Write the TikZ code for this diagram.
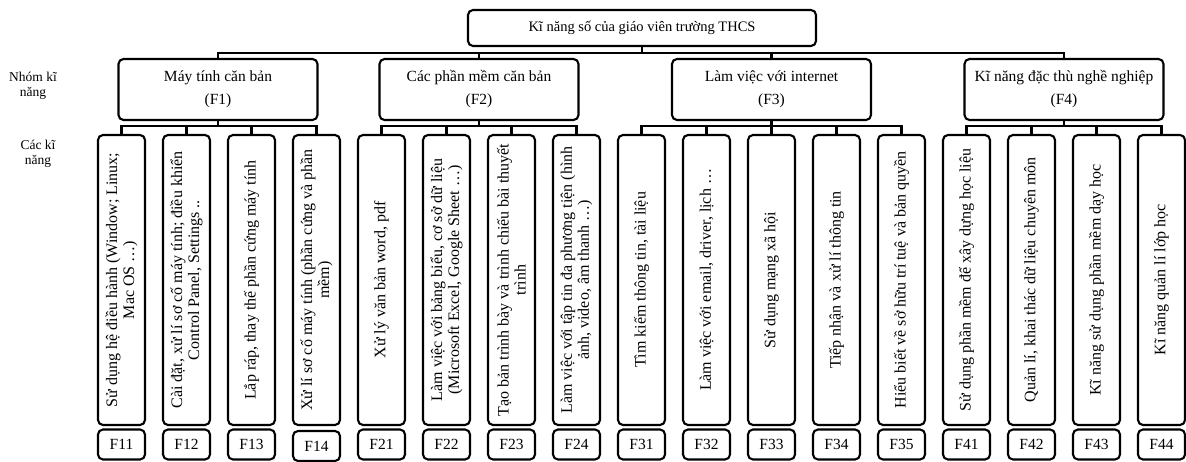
\documentclass[tikz,border=0pt]{standalone}
\usepackage{fontspec}
\setmainfont{Liberation Serif}
\usetikzlibrary{calc}
\tikzset{
  boxline/.style={draw=black, line width=2.1pt, rounded corners=5pt},
  titlebox/.style={boxline, minimum width=348pt, minimum height=36pt, inner sep=0pt, font=\fontsize{14.5}{17}\selectfont},
  groupbox/.style={boxline, minimum width=199pt, minimum height=61pt, inner sep=0pt, align=center, font=\fontsize{15.5}{23}\selectfont},
  colbox/.style={boxline, minimum width=47pt, minimum height=290pt, inner sep=0pt},
  coltext/.style={rotate=90, align=center, inner sep=0pt, font=\fontsize{16}{17}\selectfont},
  labbox/.style={boxline, minimum width=47pt, minimum height=30pt, inner sep=0pt, font=\fontsize{15.5}{17}\selectfont},
  sidetext/.style={align=center, inner sep=0pt, font=\fontsize{13.5}{15.5}\selectfont},
  conn/.style={draw=black, line width=2.1pt},
}
\newcommand{\skillcol}[5]{%
  \node[colbox] (c#1) at ({121.5+65*#2},280) {};
  \node[coltext] (x#1) at (c#1.center) {#3};
  \node[labbox] (l#1) at ({121.5+65*#2},{444.5+#5}) {#4};
}
\begin{document}
\begin{tikzpicture}[x=1pt,y=-1pt]
\useasboundingbox (0,0) rectangle (1186,462);

\node[titlebox] (t) at (642,28) {Kĩ năng số của giáo viên trường THCS};

\node[groupbox] (g1) at (218,89.5) {Máy tính căn bản\\(F1)};
\node[groupbox] (g2) at (479,89.5) {Các phần mềm căn bản\\(F2)};
\node[groupbox] (g3) at (771.5,89.5) {Làm việc với internet\\(F3)};
\node[groupbox] (g4) at (1064,89.5) {Kĩ năng đặc thù nghề nghiệp\\(F4)};

\node[sidetext] (s1) at (33,86) {Nhóm kĩ\\năng};
\node[sidetext] (s2) at (38,154) {Các kĩ\\năng};

\skillcol{11}{0}{Sử dụng hệ điều hành (Window; Linux;\\Mac OS …)}{F11}{0}
\skillcol{12}{1}{Cài đặt, xử lí sơ cố máy tính; điều khiển\\Control Panel, Settings ..}{F12}{0}
\skillcol{13}{2}{Lắp ráp, thay thế phần cứng máy tính}{F13}{0}
\skillcol{14}{3}{Xử lí sơ cố máy tính (phần cứng và phần\\mềm)}{F14}{1.5}
\skillcol{21}{4}{Xử lý văn bản word, pdf}{F21}{0}
\skillcol{22}{5}{Làm việc với bảng biểu, cơ sở dữ liệu\\(Microsoft Excel, Google Sheet …)}{F22}{0}
\skillcol{23}{6}{Tạo bản trình bày và trình chiếu bài thuyết\\trình}{F23}{0}
\skillcol{24}{7}{Làm việc với tập tin đa phương tiện (hình\\ảnh, video, âm thanh …)}{F24}{0}
\skillcol{31}{8}{Tìm kiếm thông tin, tài liệu}{F31}{0}
\skillcol{32}{9}{Làm việc với email, driver, lịch …}{F32}{0}
\skillcol{33}{10}{Sử dụng mạng xã hội}{F33}{0}
\skillcol{34}{11}{Tiếp nhận và xử lí thông tin}{F34}{0}
\skillcol{35}{12}{Hiểu biết về sở hữu trí tuệ và bản quyền}{F35}{0}
\skillcol{41}{13}{Sử dụng phần mềm để xây dựng học liệu}{F41}{0}
\skillcol{42}{14}{Quản lí, khai thác dữ liệu chuyên môn}{F42}{0}
\skillcol{43}{15}{Kĩ năng sử dụng phần mềm dạy học}{F43}{0}
\skillcol{44}{16}{Kĩ năng quản lí lớp học}{F44}{0}

% title to groups
\foreach \g in {g1,g2,g3,g4}
  \draw[conn] (t.south) |- ([yshift=5pt]\g.north) -- (\g.north);

% groups to columns
\foreach \c in {11,12,13,14}
  \draw[conn] (g1.south) |- ([yshift=8pt]c\c.north) -- (c\c.north);
\foreach \c in {21,22,23,24}
  \draw[conn] (g2.south) |- ([yshift=8pt]c\c.north) -- (c\c.north);
\foreach \c in {31,32,33,34,35}
  \draw[conn] (g3.south) |- ([yshift=8pt]c\c.north) -- (c\c.north);
\foreach \c in {41,42,43,44}
  \draw[conn] (g4.south) |- ([yshift=8pt]c\c.north) -- (c\c.north);
\end{tikzpicture}
\end{document}
